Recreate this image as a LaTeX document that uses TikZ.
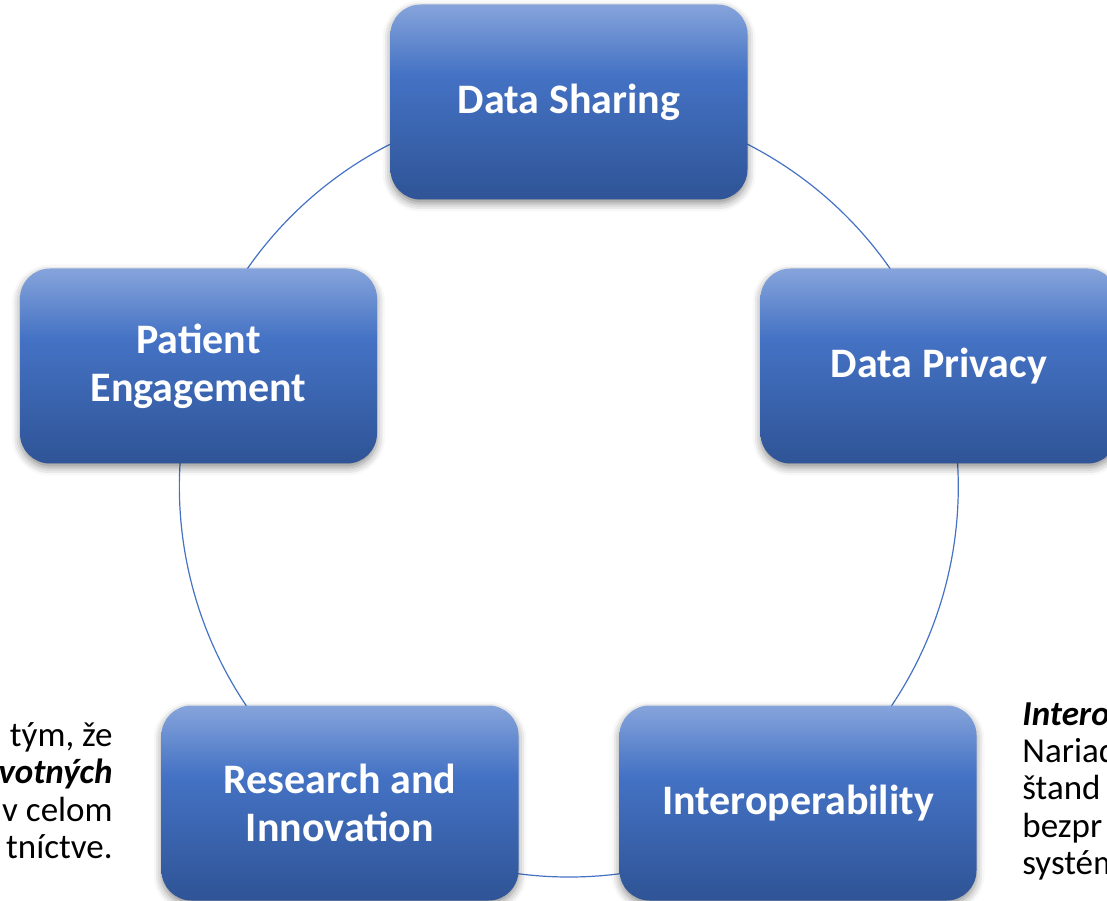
\documentclass[tikz,border=0pt]{standalone}
\usepackage{fontspec}
\setmainfont{Carlito}
\usepackage{tikz}
\usetikzlibrary{calc,backgrounds,shadows.blur}
\definecolor{boxtop}{HTML}{86A4DB}
\definecolor{boxmid}{HTML}{4472C4}
\definecolor{boxbot}{HTML}{2F5496}
\definecolor{ringline}{HTML}{4472C4}
\pgfdeclareverticalshading{boxshade}{100bp}{color(0bp)=(boxbot); color(25bp)=(boxbot);
    color(57bp)=(boxmid); color(75bp)=(boxtop); color(100bp)=(boxtop)}
\tikzset{
        topic_n/.style = {rectangle, rounded corners=15pt, shading=boxshade,
            minimum width=178.5pt, minimum height=97.5pt, align=center,
            text=white, font=\fontsize{21}{24}\selectfont\bfseries,
            blur shadow={shadow xshift=0pt, shadow yshift=-2pt,
            shadow blur radius=4pt, shadow opacity=45}},
        side_t/.style = {inner sep=0pt, text=black,
            font=\fontsize{17.5}{18.7}\selectfont},
        ring_l/.style = {draw=ringline, line width=0.6pt,
            bend right=36, looseness=0.94}
    }
\begin{document}
\begin{tikzpicture}[x=0.5pt,y=0.5pt]
            \useasboundingbox (0,0) rectangle (1107,900);
            \clip (0,0) rectangle (1107,900);
            \node [topic_n] (ds) at (569,798) {Data Sharing}; % TOP
            \node [topic_n] (pe) at (198.5,534) {Patient\\Engagement};
            \node [topic_n] (dp) at (939,534) {Data Privacy};
            \node [topic_n] (ri) at (340,97) {Research and\\Innovation};
            \node [topic_n] (io) at (798,97) {Interoperability};
            % text cut off at the edges
            \node [side_t, anchor=north east, align=right] (lefttxt) at (113,178)
                {tým, že\\\textbf{\textit{votných}}\\v celom\\tníctve.};
            \node [side_t, anchor=north west, align=left] (righttxt) at (1022,198)
                {\textbf{\textit{Intero}}\\Nariad\\štand\\bezpr\\systém};
            \begin{scope}[on background layer]
                \draw [ring_l] (ds.center) to (pe.center);
                \draw [ring_l] (pe.center) to (ri.center);
                \draw [ring_l] (ri.center) to (io.center);
                \draw [ring_l] (io.center) to (dp.center);
                \draw [ring_l] (dp.center) to (ds.center);
            \end{scope}
        \end{tikzpicture}
\end{document}
